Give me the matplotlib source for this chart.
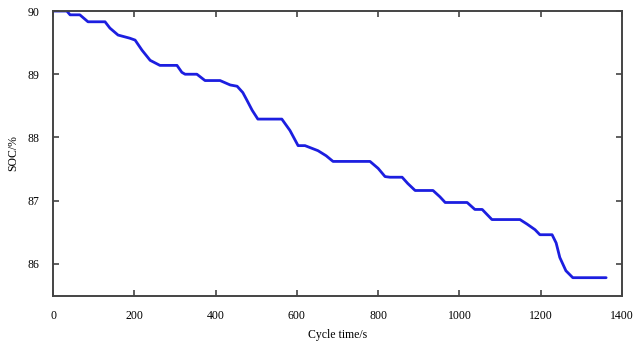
import numpy as np
import matplotlib.pyplot as plt

# SOC trace over one cycle
time_s = [0, 34, 42, 66, 86, 128, 140, 160, 189, 202, 219, 239, 263, 305, 317,
          325, 354, 374, 411, 436, 453, 467, 477, 490, 504, 563, 583, 603, 620,
          652, 672, 689, 780, 800, 817, 829, 859, 873, 891, 935, 952, 965, 1019,
          1038, 1056, 1080, 1149, 1166, 1186, 1198, 1228, 1238, 1247, 1262, 1279,
          1361]
soc = [90.0, 90.0, 89.94, 89.94, 89.83, 89.83, 89.73, 89.62, 89.57, 89.54,
       89.38, 89.22, 89.14, 89.14, 89.03, 89.0, 89.0, 88.90, 88.90, 88.83,
       88.81, 88.71, 88.59, 88.43, 88.29, 88.29, 88.11, 87.87, 87.87, 87.79,
       87.71, 87.62, 87.62, 87.51, 87.38, 87.37, 87.37, 87.27, 87.16, 87.16,
       87.06, 86.97, 86.97, 86.86, 86.86, 86.70, 86.70, 86.63, 86.54, 86.46,
       86.46, 86.33, 86.10, 85.89, 85.78, 85.78]

xticks = [0, 200, 400, 600, 800, 1000, 1200, 1400]
yticks = [86, 87, 88, 89, 90]

plt.rcParams["font.family"] = ["Liberation Serif", "DejaVu Serif"]

fig = plt.figure(figsize=(6.35, 3.45), dpi=100)
ax = fig.add_axes([0.0835, 0.142, 0.896, 0.826])
ax.plot(time_s, soc, color="#1c1ee0", linewidth=2.0,
        solid_joinstyle="round", solid_capstyle="round")

ax.set_xlim(0, 1400)
ax.set_ylim(85.49, 90)
ax.set_xticks(xticks)
ax.set_yticks(yticks)
ax.tick_params(direction="in", length=4, width=1.2, color="#444444",
               labelsize=8.5, top=True, right=True)
ax.tick_params(axis="x", pad=10)
ax.tick_params(axis="y", pad=10)
for s in ax.spines.values():
    s.set_linewidth(1.4)
    s.set_color("#444444")

ax.set_xlabel("Cycle time/s", fontsize=8.5, labelpad=5)
ax.set_ylabel("SOC/%", fontsize=8.5, labelpad=6)

fig.savefig("out.png", dpi=100)
